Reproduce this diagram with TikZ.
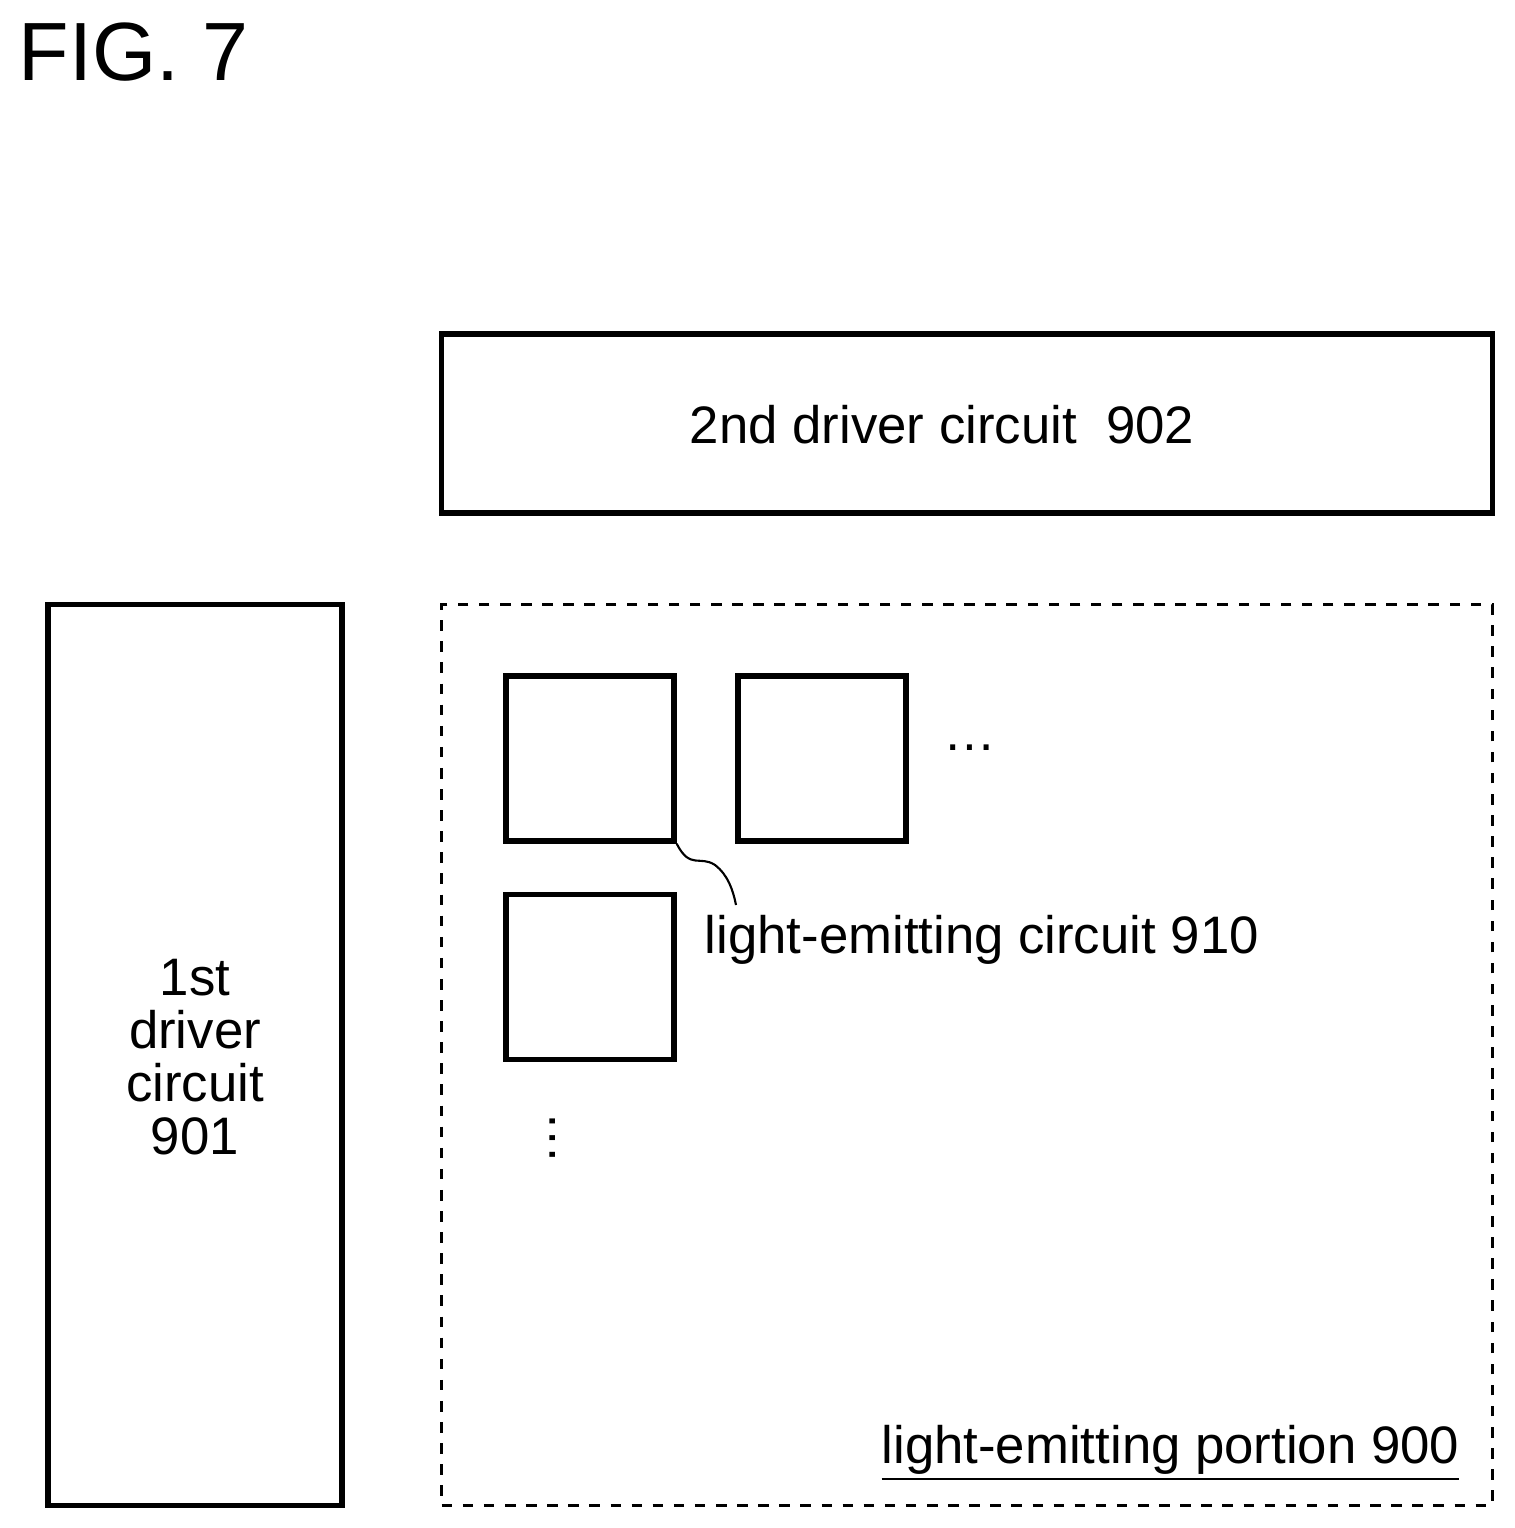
\documentclass[tikz,border=0pt]{standalone}
\usepackage{fontspec}
\setmainfont{Liberation Sans}
\usetikzlibrary{positioning}

\tikzset{
  block/.style={draw, line width=1.5pt, inner sep=0pt},
  cell/.style={draw, line width=1.5pt, minimum width=1.68cm, minimum height=1.65cm, inner sep=0pt},
  lbl/.style={font=\fontsize{15pt}{18pt}\selectfont}
}

\begin{document}
\begin{tikzpicture}[x=0.01cm, y=-0.01cm]
                \useasboundingbox (0,0) rectangle (1514,1528);
                \node [anchor=north west, inner sep=0pt, font=\fontsize{23.5pt}{28pt}\selectfont] (fig) at (18,22) {FIG. 7};
                % driver circuits
                \node [block, minimum width=10.5cm, minimum height=1.79cm] (drv2) at (967,423.5) {};
                \node [lbl] (drv2t) at (942,425) {2nd driver circuit\ \ 902};
                \node [block, minimum width=2.94cm, minimum height=9cm] (drv1) at (195,1055) {};
                \node [lbl, align=center, font=\fontsize{15pt}{15pt}\selectfont] (drv1t) at (195,1057) {1st\\driver\\circuit\\901};
                % light-emitting portion
                \node [draw, dashed, line width=0.9pt, minimum width=10.5cm, minimum height=9cm, inner sep=0pt] (lep) at (967,1055) {};
                \node [lbl, anchor=base east, inner sep=0pt] (lept) at (1460,1463) {\underline{light-emitting portion 900}};
                \foreach \x/\y/\n in {590/758.5/c1, 822/758.5/c2, 590/977/c3} {
                    \node [cell] (\n) at (\x,\y) {};
                }
                \node [lbl] (hdots) at (970,748) {\dots};
                \node [lbl, rotate=90] (vdots) at (553,1138) {\dots};
                \node [lbl, anchor=west, inner sep=0pt] (cellt) at (704,940) {light-emitting circuit 910};
                \coordinate (lead) at (736,905);
                \draw [line width=0.6pt] (c1.south east) .. controls (690,870) and (700,855) .. (715,865) .. controls (728,875) and (733,890) .. (lead);
            \end{tikzpicture}
\end{document}
